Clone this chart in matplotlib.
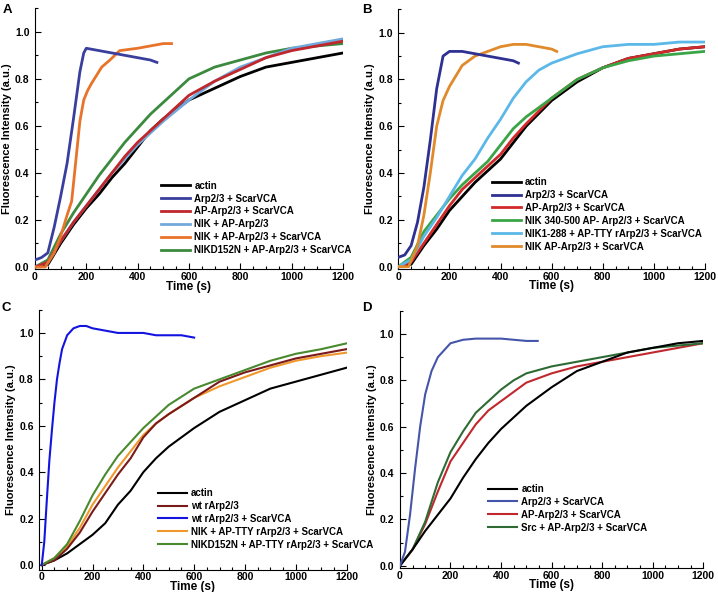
import matplotlib
matplotlib.use("Agg")
import matplotlib.pyplot as plt
from matplotlib.ticker import MultipleLocator

plt.rcParams['font.family'] = ['Liberation Sans', 'DejaVu Sans']
plt.rcParams['font.weight'] = 'bold'

# ---- Panel A ----
a_actin_t = [0, 50, 100, 150, 200, 250, 300, 350, 400, 450, 500, 600, 700, 800, 900, 1000, 1100, 1200]
a_actin_v = [0.0, 0.01, 0.10, 0.18, 0.25, 0.31, 0.38, 0.44, 0.51, 0.58, 0.63, 0.71, 0.76, 0.81, 0.85, 0.87, 0.89, 0.91]
a_arp_t = [0, 25, 50, 75, 100, 125, 150, 175, 190, 200, 250, 300, 350, 400, 450, 475]
a_arp_v = [0.03, 0.04, 0.06, 0.17, 0.30, 0.44, 0.63, 0.83, 0.91, 0.93, 0.92, 0.91, 0.90, 0.89, 0.88, 0.87]
a_ap_t = [0, 50, 100, 150, 200, 250, 300, 350, 400, 450, 500, 600, 700, 800, 900, 1000, 1100, 1200]
a_ap_v = [0.0, 0.02, 0.11, 0.19, 0.26, 0.33, 0.40, 0.47, 0.53, 0.58, 0.63, 0.73, 0.79, 0.84, 0.89, 0.92, 0.94, 0.96]
a_nik_t = [0, 50, 100, 150, 200, 250, 300, 350, 400, 450, 500, 600, 700, 800, 900, 1000, 1100, 1200]
a_nik_v = [0.0, 0.02, 0.11, 0.19, 0.26, 0.33, 0.40, 0.46, 0.52, 0.57, 0.62, 0.71, 0.79, 0.85, 0.89, 0.93, 0.95, 0.97]
a_nikvca_t = [0, 40, 75, 100, 125, 143, 160, 175, 190, 205, 220, 260, 292, 330, 400, 450, 500, 532]
a_nikvca_v = [0.0, 0.0, 0.06, 0.13, 0.22, 0.28, 0.46, 0.62, 0.71, 0.75, 0.78, 0.85, 0.88, 0.92, 0.93, 0.94, 0.95, 0.95]
a_d152_t = [0, 50, 100, 150, 200, 250, 300, 350, 400, 450, 500, 550, 600, 700, 800, 900, 1000, 1100, 1200]
a_d152_v = [0.0, 0.03, 0.14, 0.23, 0.31, 0.39, 0.46, 0.53, 0.59, 0.65, 0.70, 0.75, 0.80, 0.85, 0.88, 0.91, 0.93, 0.94, 0.95]
a_labels = ["actin", "Arp2/3 + ScarVCA", "AP-Arp2/3 + ScarVCA", "NIK + AP-Arp2/3",
            "NIK + AP-Arp2/3 + ScarVCA", "NIKD152N + AP-Arp2/3 + ScarVCA"]

# ---- Panel B ----
b_actin_t = [0, 50, 100, 150, 200, 250, 300, 350, 400, 450, 500, 600, 700, 800, 900, 1000, 1100, 1200]
b_actin_v = [0.0, 0.01, 0.09, 0.16, 0.24, 0.30, 0.36, 0.41, 0.46, 0.53, 0.60, 0.71, 0.79, 0.85, 0.89, 0.91, 0.93, 0.94]
b_arp_t = [0, 25, 50, 75, 100, 125, 150, 175, 200, 250, 300, 350, 400, 450, 470]
b_arp_v = [0.04, 0.05, 0.09, 0.19, 0.34, 0.54, 0.76, 0.90, 0.92, 0.92, 0.91, 0.90, 0.89, 0.88, 0.87]
b_ap_t = [0, 50, 100, 150, 200, 250, 300, 350, 400, 450, 500, 600, 700, 800, 900, 1000, 1100, 1200]
b_ap_v = [0.0, 0.02, 0.10, 0.18, 0.26, 0.33, 0.38, 0.43, 0.48, 0.55, 0.61, 0.72, 0.80, 0.85, 0.89, 0.91, 0.93, 0.94]
b_nik340_t = [0, 50, 100, 150, 200, 250, 300, 350, 400, 450, 500, 600, 700, 800, 900, 1000, 1100, 1200]
b_nik340_v = [0.0, 0.04, 0.15, 0.22, 0.29, 0.35, 0.40, 0.45, 0.52, 0.59, 0.64, 0.72, 0.80, 0.85, 0.88, 0.90, 0.91, 0.92]
b_nik288_t = [0, 50, 100, 150, 200, 250, 300, 350, 400, 450, 500, 550, 600, 700, 800, 900, 1000, 1100, 1200]
b_nik288_v = [0.0, 0.03, 0.13, 0.21, 0.30, 0.39, 0.46, 0.55, 0.63, 0.72, 0.79, 0.84, 0.87, 0.91, 0.94, 0.95, 0.95, 0.96, 0.96]
b_nikap_t = [0, 40, 75, 100, 125, 150, 175, 200, 250, 300, 350, 400, 450, 500, 550, 600, 620]
b_nikap_v = [0.0, 0.0, 0.09, 0.22, 0.40, 0.60, 0.71, 0.77, 0.86, 0.90, 0.92, 0.94, 0.95, 0.95, 0.94, 0.93, 0.92]
b_labels = ["actin", "Arp2/3 + ScarVCA", "AP-Arp2/3 + ScarVCA", "NIK 340-500 AP- Arp2/3 + ScarVCA",
            "NIK1-288 + AP-TTY rArp2/3 + ScarVCA", "NIK AP-Arp2/3 + ScarVCA"]

# ---- Panel C ----
c_actin_t = [0, 50, 100, 150, 200, 250, 300, 350, 400, 450, 500, 600, 700, 800, 900, 1000, 1100, 1200]
c_actin_v = [0.0, 0.02, 0.05, 0.09, 0.13, 0.18, 0.26, 0.32, 0.40, 0.46, 0.51, 0.59, 0.66, 0.71, 0.76, 0.79, 0.82, 0.85]
c_wt_t = [0, 50, 100, 150, 200, 250, 300, 350, 400, 450, 500, 600, 700, 800, 900, 1000, 1100, 1200]
c_wt_v = [0.0, 0.02, 0.07, 0.14, 0.23, 0.31, 0.39, 0.46, 0.55, 0.61, 0.65, 0.72, 0.79, 0.83, 0.86, 0.89, 0.91, 0.93]
c_wtvca_t = [0, 10, 20, 30, 40, 50, 60, 70, 80, 100, 125, 150, 175, 200, 250, 300, 350, 400, 450, 500, 550, 600]
c_wtvca_v = [0.0, 0.10, 0.28, 0.45, 0.58, 0.70, 0.80, 0.87, 0.93, 0.99, 1.02, 1.03, 1.03, 1.02, 1.01, 1.00, 1.00, 1.00, 0.99, 0.99, 0.99, 0.98]
c_nik_t = [0, 50, 100, 150, 200, 250, 300, 350, 400, 450, 500, 600, 700, 800, 900, 1000, 1100, 1200]
c_nik_v = [0.0, 0.03, 0.08, 0.16, 0.26, 0.34, 0.42, 0.49, 0.56, 0.61, 0.65, 0.72, 0.77, 0.81, 0.85, 0.88, 0.90, 0.915]
c_d152_t = [0, 50, 100, 150, 200, 250, 300, 350, 400, 450, 500, 600, 700, 800, 900, 1000, 1100, 1200]
c_d152_v = [0.0, 0.03, 0.09, 0.19, 0.30, 0.39, 0.47, 0.53, 0.59, 0.64, 0.69, 0.76, 0.80, 0.84, 0.88, 0.91, 0.93, 0.955]
c_labels = ["actin", "wt rArp2/3", "wt rArp2/3 + ScarVCA", "NIK + AP-TTY rArp2/3 + ScarVCA",
            "NIKD152N + AP-TTY rArp2/3 + ScarVCA"]

# ---- Panel D ----
d_actin_t = [0, 50, 100, 150, 200, 250, 300, 350, 400, 450, 500, 600, 700, 800, 900, 1000, 1100, 1200]
d_actin_v = [0.0, 0.07, 0.15, 0.22, 0.29, 0.38, 0.46, 0.53, 0.59, 0.64, 0.69, 0.77, 0.84, 0.88, 0.92, 0.94, 0.96, 0.97]
d_arp_t = [0, 20, 40, 60, 80, 100, 125, 150, 175, 200, 250, 300, 350, 400, 450, 500, 545]
d_arp_v = [0.0, 0.06, 0.22, 0.42, 0.60, 0.74, 0.84, 0.90, 0.93, 0.96, 0.975, 0.98, 0.98, 0.98, 0.975, 0.97, 0.97]
d_ap_t = [0, 50, 100, 150, 200, 250, 300, 350, 400, 450, 500, 600, 700, 800, 900, 1000, 1100, 1200]
d_ap_v = [0.0, 0.07, 0.18, 0.32, 0.45, 0.53, 0.61, 0.67, 0.71, 0.75, 0.79, 0.83, 0.86, 0.88, 0.90, 0.92, 0.94, 0.96]
d_src_t = [0, 50, 100, 150, 200, 250, 300, 350, 400, 450, 500, 600, 700, 800, 900, 1000, 1100, 1200]
d_src_v = [0.0, 0.07, 0.19, 0.36, 0.49, 0.58, 0.66, 0.71, 0.76, 0.80, 0.83, 0.86, 0.88, 0.90, 0.92, 0.94, 0.95, 0.96]
d_labels = ["actin", "Arp2/3 + ScarVCA", "AP-Arp2/3 + ScarVCA", "Src + AP-Arp2/3 + ScarVCA"]


def style_axis(ax, xlim, ylim):
    ax.set_xlim(*xlim)
    ax.set_ylim(*ylim)
    for s in ["top", "right"]:
        ax.spines[s].set_visible(False)
    ax.xaxis.set_major_locator(MultipleLocator(200))
    ax.xaxis.set_minor_locator(MultipleLocator(50))
    ax.yaxis.set_minor_locator(MultipleLocator(0.1))
    ax.tick_params(which="both", direction="in", labelsize=7.5, width=0.8)
    ax.tick_params(which="major", length=4)
    ax.tick_params(axis="x", which="major", pad=2)
    ax.tick_params(axis="y", which="major", pad=4)
    ax.tick_params(which="minor", length=2)
    ax.set_yticks([0, 0.2, 0.4, 0.6, 0.8, 1.0])
    ax.set_yticklabels(["0.0", "0.2", "0.4", "0.6", "0.8", "1.0"])
    ax.set_xlabel("Time (s)", fontsize=8.5, fontweight="bold", labelpad=-1)
    ax.set_ylabel("Fluorescence Intensity (a.u.)", fontsize=8, fontweight="bold", labelpad=2)


def add_legend(ax, lines, labels, x, y):
    ax.legend(lines, labels, loc="upper left", bbox_to_anchor=(x, y), frameon=False,
              fontsize=7, handlelength=3.0, handletextpad=0.4, labelspacing=0.3,
              borderpad=0, borderaxespad=0)


fig = plt.figure(figsize=(7.18, 5.92), dpi=100)

# A
axA = fig.add_axes([0.0487, 0.545, 0.429, 0.441])
lA = {}
lA[0], = axA.plot(a_actin_t, a_actin_v, color="black", lw=2.0, zorder=2)
lA[5], = axA.plot(a_d152_t, a_d152_v, color="#3b8a3f", lw=2.0, zorder=3)
lA[3], = axA.plot(a_nik_t, a_nik_v, color="#72a9dc", lw=2.0, zorder=4)
lA[2], = axA.plot(a_ap_t, a_ap_v, color="#c0272d", lw=2.0, zorder=5)
lA[4], = axA.plot(a_nikvca_t, a_nikvca_v, color="#e8732a", lw=2.0, zorder=6)
lA[1], = axA.plot(a_arp_t, a_arp_v, color="#3a3f9e", lw=2.0, zorder=7)
style_axis(axA, (0, 1200), (-0.01, 1.1))
add_legend(axA, [lA[i] for i in range(6)], a_labels, 0.41, 0.34)

# B
axB = fig.add_axes([0.5548, 0.5456, 0.427, 0.4387])
lB = {}
lB[0], = axB.plot(b_actin_t, b_actin_v, color="black", lw=2.0, zorder=2)
lB[2], = axB.plot(b_ap_t, b_ap_v, color="#d02a2a", lw=2.0, zorder=3)
lB[3], = axB.plot(b_nik340_t, b_nik340_v, color="#3aa547", lw=2.0, zorder=4)
lB[4], = axB.plot(b_nik288_t, b_nik288_v, color="#5cb8e8", lw=2.0, zorder=5)
lB[5], = axB.plot(b_nikap_t, b_nikap_v, color="#e08a2c", lw=2.0, zorder=6)
lB[1], = axB.plot(b_arp_t, b_arp_v, color="#2e3192", lw=2.0, zorder=7)
style_axis(axB, (0, 1200), (-0.01, 1.1))
add_legend(axB, [lB[i] for i in range(6)], b_labels, 0.305, 0.354)

# C
axC = fig.add_axes([0.0546, 0.0378, 0.428, 0.439])
lC = {}
lC[0], = axC.plot(c_actin_t, c_actin_v, color="black", lw=1.5, zorder=2)
lC[3], = axC.plot(c_nik_t, c_nik_v, color="#f0982c", lw=1.5, zorder=3)
lC[1], = axC.plot(c_wt_t, c_wt_v, color="#7a1a1a", lw=1.5, zorder=4)
lC[4], = axC.plot(c_d152_t, c_d152_v, color="#4a8a2f", lw=1.5, zorder=5)
lC[2], = axC.plot(c_wtvca_t, c_wtvca_v, color="#1414e0", lw=1.5, zorder=6)
style_axis(axC, (-10, 1200), (-0.02, 1.1))
add_legend(axC, [lC[i] for i in range(5)], c_labels, 0.387, 0.314)

# D
axD = fig.add_axes([0.557, 0.0405, 0.4225, 0.4345])
lD = {}
lD[2], = axD.plot(d_ap_t, d_ap_v, color="#c0282e", lw=1.5, zorder=2)
lD[3], = axD.plot(d_src_t, d_src_v, color="#2e6b34", lw=1.5, zorder=3)
lD[0], = axD.plot(d_actin_t, d_actin_v, color="black", lw=1.5, zorder=4)
lD[1], = axD.plot(d_arp_t, d_arp_v, color="#4455aa", lw=1.5, zorder=5)
style_axis(axD, (0, 1200), (-0.01, 1.1))
add_legend(axD, [lD[i] for i in range(4)], d_labels, 0.291, 0.327)

# panel letters
for letter, (x, y) in zip("ABCD", [(3, 4), (362, 4), (2, 302), (362, 302)]):
    fig.text(x / 718, 1 - y / 592, letter, fontsize=9.5, fontweight="bold", va="top", ha="left")

fig.savefig("out.png", dpi=100)
